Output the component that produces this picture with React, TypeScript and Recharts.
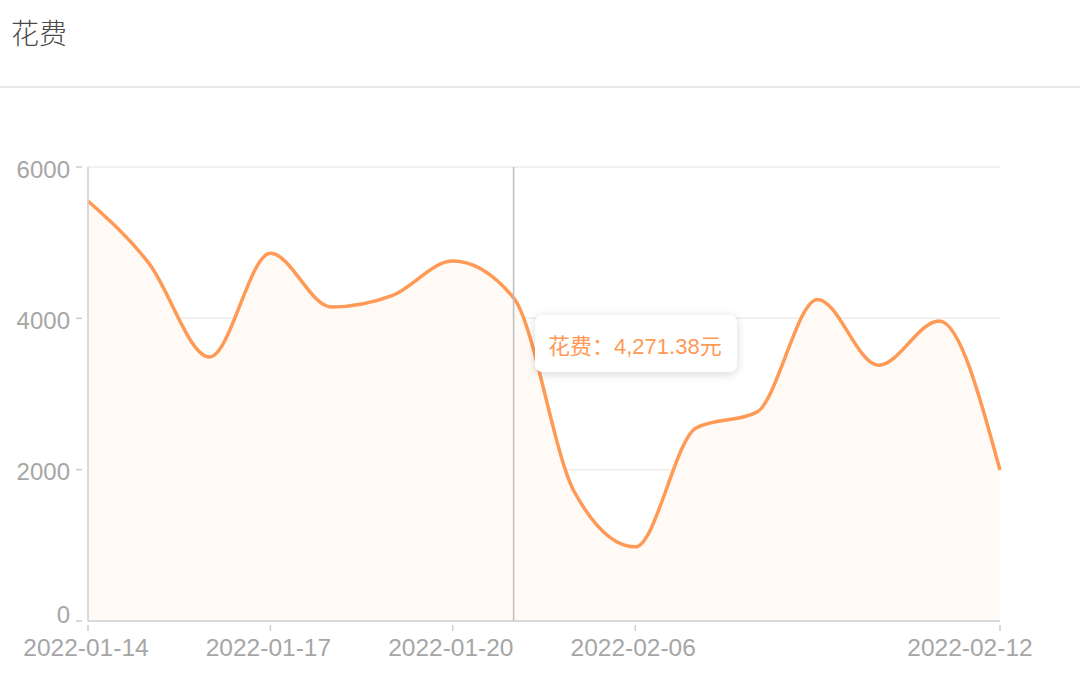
import { AreaChart, Area, XAxis, YAxis, CartesianGrid, Tooltip } from 'recharts';

const dates = [
  '2022-01-14', '2022-01-15', '2022-01-16', '2022-01-17', '2022-01-18', '2022-01-19',
  '2022-01-20', '2022-01-21', '2022-02-05', '2022-02-06', '2022-02-07', '2022-02-08',
  '2022-02-09', '2022-02-10', '2022-02-11', '2022-02-12',
];
const spend = [
  5550, 4730, 3490, 4860, 4150, 4300, 4757, 4271.38, 1705, 980, 2550, 2760, 4250, 3380, 3965, 1995,
];
const xTicks = ['2022-01-14', '2022-01-17', '2022-01-20', '2022-02-06', '2022-02-12'];
const yTicks = [0, 2000, 4000, 6000];

const data = dates.map((date, i) => ({ date, spend: spend[i] }));

const FONT = '"Liberation Sans", Arial, "Noto Sans CJK SC", sans-serif';
const LABEL = '#a6a6a6';
const ORANGE = '#ff9a56';

function YTick({ x, y, payload }: any) {
  const isZero = payload.value === 0;
  return (
    <g>
      <line x1={x - 12} x2={x - 6} y1={y} y2={y} stroke="#cccccc" strokeWidth={1.5} />
      <text
        x={x - 18}
        y={isZero ? y - 7 : y + 2}
        textAnchor="end"
        dominantBaseline="central"
        fill={LABEL}
        fontSize={24}
        fontFamily={FONT}
      >
        {payload.value}
      </text>
    </g>
  );
}

function XTick({ x, y, payload, index }: any) {
  const last = payload.value === xTicks[xTicks.length - 1];
  return (
    <g key={index}>
      <line x1={x} x2={x} y1={y + 4} y2={y + 10} stroke="#cccccc" strokeWidth={1.5} />
      <text
        x={last ? x - 30 : x - 2}
        y={y + 26}
        textAnchor="middle"
        dominantBaseline="central"
        fill={LABEL}
        fontSize={24.5}
        fontFamily={FONT}
      >
        {payload.value}
      </text>
    </g>
  );
}

function TipBox({ active, payload }: any) {
  if (!active || !payload || !payload.length) return null;
  const v = Number(payload[0].value).toLocaleString('en-US', {
    minimumFractionDigits: 2,
    maximumFractionDigits: 2,
  });
  return (
    <div
      style={{
        width: 202,
        height: 57,
        boxSizing: 'border-box',
        background: '#fff',
        borderRadius: 7,
        boxShadow: '0 2px 10px rgba(0,0,0,0.16)',
        display: 'flex',
        alignItems: 'center',
        paddingLeft: 13,
        color: ORANGE,
        fontSize: 22,
        fontFamily: FONT,
        whiteSpace: 'nowrap',
      }}
    >
      花费：{v}元
    </div>
  );
}

export default function App() {
  return (
    <div
      style={{
        position: 'absolute',
        left: 0,
        top: 0,
        width: 1080,
        height: 689,
        background: '#fff',
        overflow: 'hidden',
      }}
    >
      <div
        style={{
          position: 'absolute',
          left: 11,
          top: 12,
          fontSize: 28,
          lineHeight: '40px',
          color: '#4a4a4a',
          fontWeight: 300,
          fontFamily: '"Noto Sans CJK SC", sans-serif',
        }}
      >
        花费
      </div>
      <div style={{ position: 'absolute', left: 0, top: 86, width: 1080, height: 2, background: '#e8e8e8' }} />
      <div style={{ position: 'absolute', left: 0, top: 0 }}>
        <AreaChart
          width={1080}
          height={689}
          data={data}
          margin={{ top: 167, right: 80, bottom: 38, left: 0 }}
        >
          <CartesianGrid vertical={false} stroke="#ededed" strokeWidth={1.5} />
          <XAxis
            dataKey="date"
            ticks={xTicks}
            interval={0}
            height={30}
            tickSize={0}
            tickMargin={0}
            tickLine={false}
            axisLine={{ stroke: '#cfcfcf', strokeWidth: 1.5 }}
            tick={<XTick />}
          />
          <YAxis
            domain={[0, 6000]}
            ticks={yTicks}
            width={88}
            tickSize={0}
            tickMargin={0}
            tickLine={false}
            axisLine={{ stroke: '#cfcfcf', strokeWidth: 1.5 }}
            tick={<YTick />}
          />
          <Tooltip
            active
            defaultIndex={7}
            position={{ x: 535, y: 315 }}
            cursor={{ stroke: '#bdbdbd', strokeWidth: 1.5 }}
            content={<TipBox />}
            isAnimationActive={false}
          />
          <Area
            type="monotone"
            dataKey="spend"
            stroke={ORANGE}
            strokeWidth={3.5}
            fill="#fffaf6"
            fillOpacity={1}
            dot={false}
            activeDot={false}
            isAnimationActive={false}
          />
        </AreaChart>
      </div>
    </div>
  );
}
